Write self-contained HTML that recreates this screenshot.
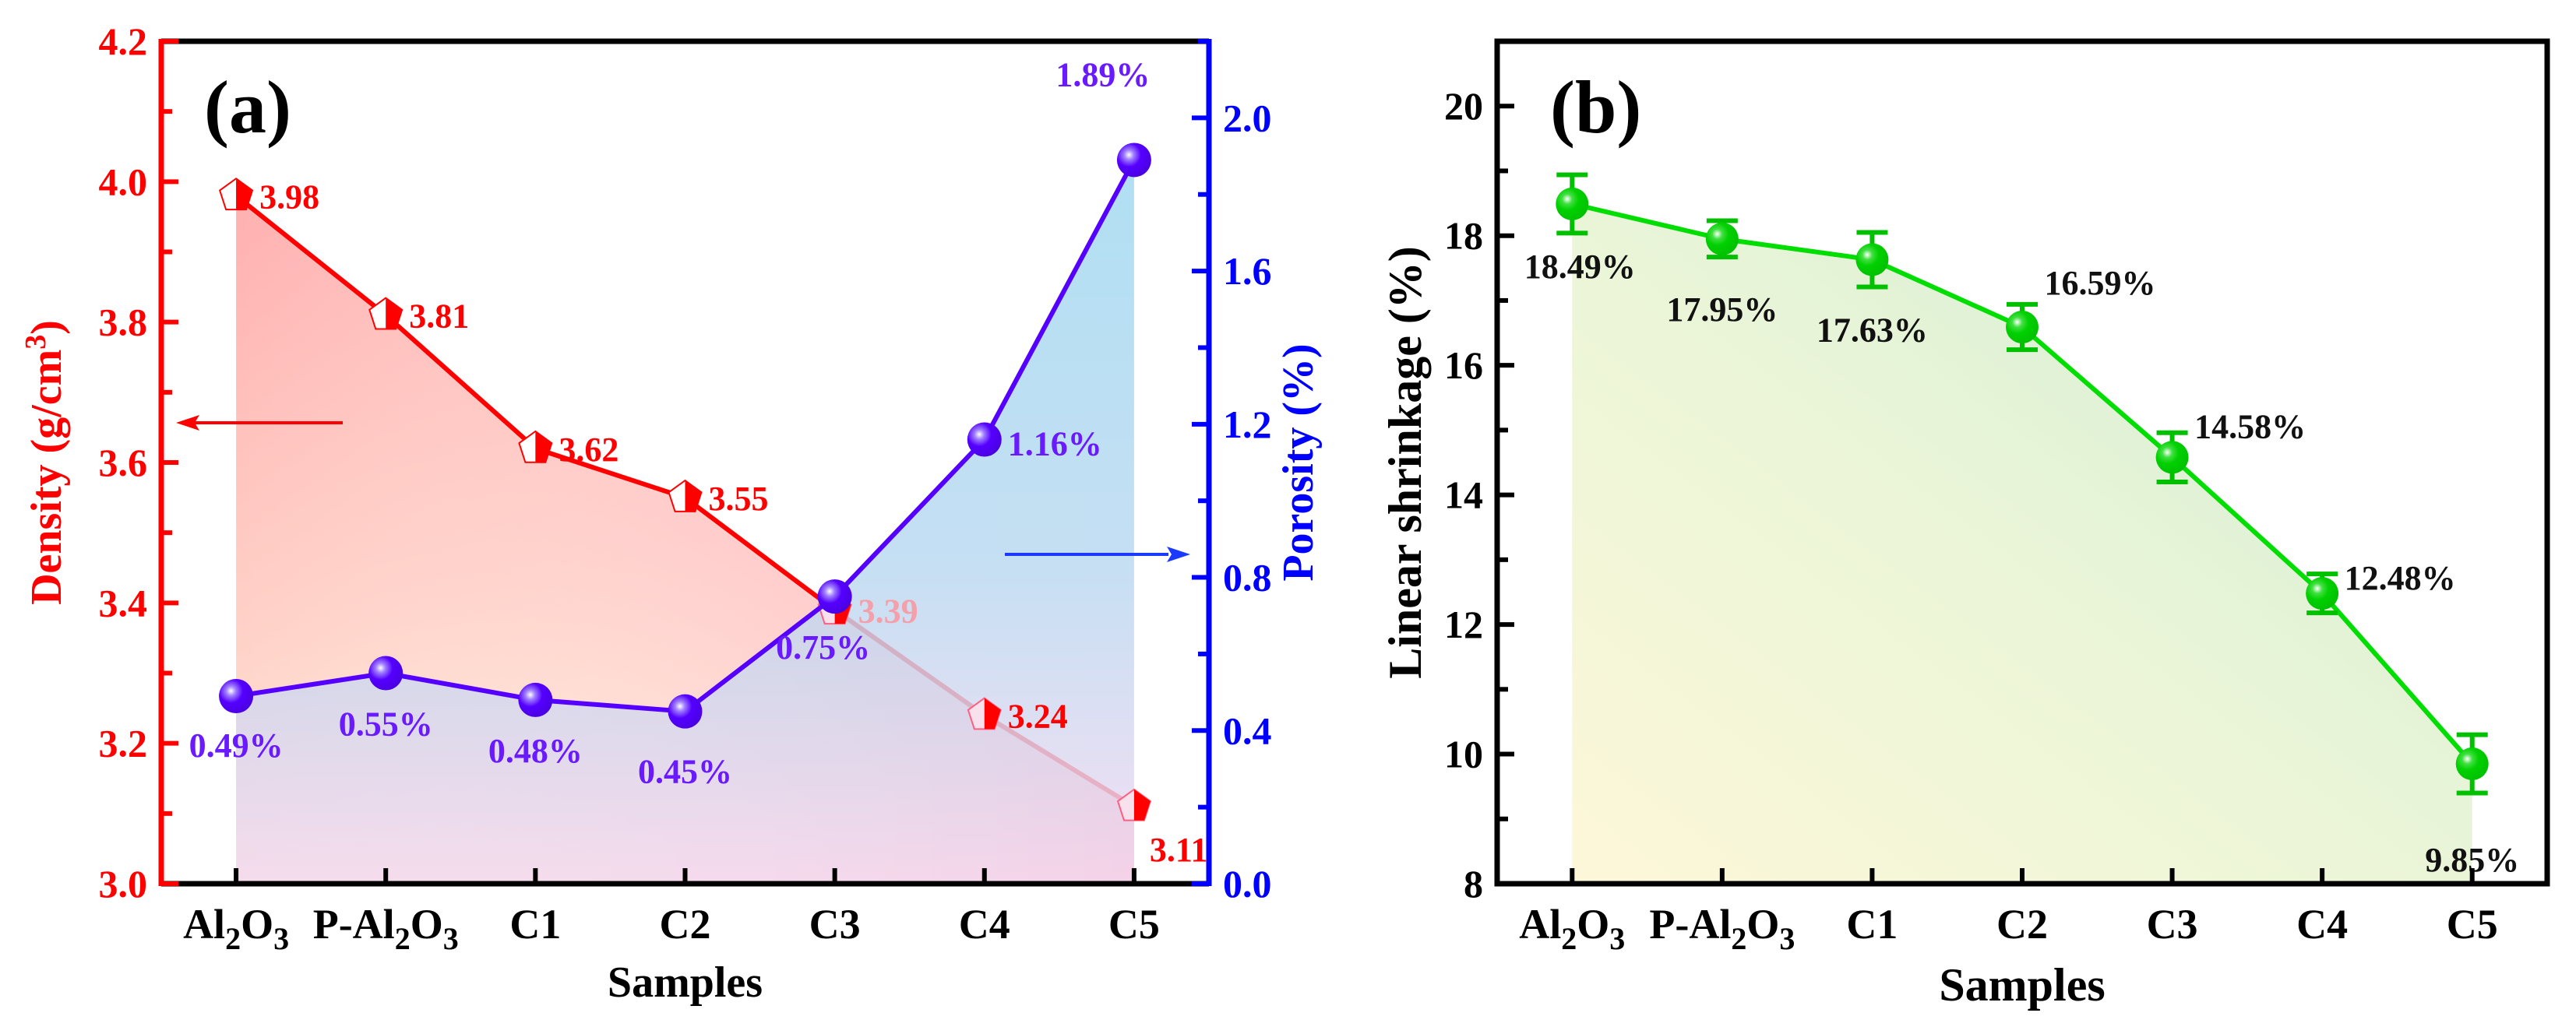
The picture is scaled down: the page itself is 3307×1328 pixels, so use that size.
<!DOCTYPE html>
<html><head><meta charset="utf-8">
<style>
html,body{margin:0;padding:0;background:#fff;}
svg{display:block;font-family:"Liberation Serif",serif;font-weight:bold;}
</style></head>
<body>
<svg id="chart" width="3307" height="1328" viewBox="0 0 3307 1328" xmlns="http://www.w3.org/2000/svg">
<defs>
  <linearGradient id="gDens" x1="0" y1="0" x2="0.3" y2="1">
    <stop offset="0" stop-color="#ffb0b0"/>
    <stop offset="0.6" stop-color="#ffd2c8"/>
    <stop offset="1" stop-color="#fff3dc"/>
  </linearGradient>
  <linearGradient id="gDens2" x1="0" y1="0" x2="1" y2="0">
    <stop offset="0" stop-color="#ffffff" stop-opacity="0"/>
    <stop offset="1" stop-color="#ff90b0" stop-opacity="0.6"/>
  </linearGradient>
  <linearGradient id="gPor" x1="0" y1="0" x2="0" y2="1">
    <stop offset="0" stop-color="#9fd8f0"/>
    <stop offset="0.55" stop-color="#b8d8f0"/>
    <stop offset="1" stop-color="#f3d8f0"/>
  </linearGradient>
  <linearGradient id="gShr" x1="0" y1="1" x2="1" y2="0">
    <stop offset="0" stop-color="#fdf7d8"/>
    <stop offset="0.5" stop-color="#eaf5d8"/>
    <stop offset="1" stop-color="#cdebd0"/>
  </linearGradient>
  <radialGradient id="gBall" cx="0.35" cy="0.35" r="0.7">
    <stop offset="0" stop-color="#ffffff"/>
    <stop offset="0.2" stop-color="#a080ff"/>
    <stop offset="0.5" stop-color="#5500ff"/>
    <stop offset="1" stop-color="#4a00e0"/>
  </radialGradient>
  <radialGradient id="gGreen" cx="0.35" cy="0.35" r="0.7">
    <stop offset="0" stop-color="#ffffff"/>
    <stop offset="0.22" stop-color="#40e040"/>
    <stop offset="0.5" stop-color="#00d000"/>
    <stop offset="1" stop-color="#00c000"/>
  </radialGradient>
</defs>
<g id="layer"></g>
</svg>
<script>
const categories = ["Al2O3","P-Al2O3","C1","C2","C3","C4","C5"];
const density = [3.98,3.81,3.62,3.55,3.39,3.24,3.11];
const porosity = [0.49,0.55,0.48,0.45,0.75,1.16,1.89];
const shrinkage = [18.49,17.95,17.63,16.59,14.58,12.48,9.85];
const shrinkErr = [0.45,0.28,0.42,0.35,0.38,0.30,0.45];
const densTicks = ["3.0","3.2","3.4","3.6","3.8","4.0","4.2"];
const porTicks = ["0.0","0.4","0.8","1.2","1.6","2.0"];
const shrTicks = ["8","10","12","14","16","18","20"];

const NS = "http://www.w3.org/2000/svg";
const root = document.getElementById("layer");
function mk(tag, attrs, parent){
  const e = document.createElementNS(NS, tag);
  for (const k in attrs) e.setAttribute(k, attrs[k]);
  (parent||root).appendChild(e);
  return e;
}
const A = {l:207, r:1552, t:53, b:1135};
const B = {l:1922, r:3270, t:53, b:1135};
function xA(i){ return A.l + (i+0.5)*(A.r-A.l)/categories.length; }
function xB(i){ return B.l + (i+0.5)*(B.r-B.l)/categories.length; }
function yDen(v){ return A.b - (v-3.0)/1.2*(A.b-A.t); }
function yPor(v){ return A.b - v/2.2*(A.b-A.t); }
function yShr(v){ return B.b - (v-8)/13*(B.b-B.t); }

function pathOf(xs, ys){ return xs.map((x,i)=>(i?"L":"M")+x.toFixed(1)+","+ys[i].toFixed(1)).join(" "); }
function areaOf(xs, ys, base){ return pathOf(xs,ys)+" L"+xs[xs.length-1]+","+base+" L"+xs[0]+","+base+" Z"; }

// ---------- Panel A ----------
const gA = mk("g",{});


const dx = density.map((v,i)=>xA(i)), dy = density.map(v=>yDen(v));
const px = porosity.map((v,i)=>xA(i)), py = porosity.map(v=>yPor(v));

let e = mk("path",{d:areaOf(dx,dy,A.b), fill:"url(#gDens)"}, gA);


e = mk("path",{d:areaOf(dx,dy,A.b), fill:"url(#gDens2)"}, gA);



e = mk("path",{d:pathOf(dx,dy), fill:"none", stroke:"#ff0000", "stroke-width":6}, gA);



e = mk("path",{d:areaOf(px,py,A.b), fill:"url(#gPor)", opacity:0.82}, gA);



density.forEach((v,i)=>{
  const x = dx[i], y = dy[i], s = 22;
  const pts = [];
  for (let k=0;k<5;k++){ const a = -Math.PI/2 + k*2*Math.PI/5; pts.push([x+s*Math.cos(a), y+s*Math.sin(a)]); }
  const p = mk("polygon",{points:pts.map(q=>q.join(",")).join(" "), fill:i>=4?"#f8e0ec":"#ffffff", stroke:i>=4?"#ff6080":"#ff0000","stroke-width":2}, gA);
  
  
  const half = [[x,y-s],pts[1],pts[2],[x,pts[2][1]]];
  const h = mk("polygon",{points:half.map(q=>q.join(",")).join(" "), fill:"#ff0000"}, gA);
  
  
  const last = i===density.length-1;
  const t = mk("text",{x: last? x+20 : x+30, y: last? y+70 : y+16, "font-size":44, fill: i===4? "#f4a0aa":"#ff0000"}, gA);
  t.textContent = v.toFixed(2);
  
  
});

e = mk("path",{d:pathOf(px,py), fill:"none", stroke:"#5500ff", "stroke-width":6}, gA);


const porOff = [[0,78],[0,80],[0,80],[0,92],[-15,80],[30,20],[-40,-95]];
porosity.forEach((v,i)=>{
  const c = mk("circle",{cx:px[i], cy:py[i], r:22, fill:"url(#gBall)"}, gA);
  
  
  const t = mk("text",{x:px[i]+porOff[i][0], y:py[i]+porOff[i][1], "font-size":44, fill:"#6a1aff", "text-anchor": i===5?"start":"middle"}, gA);
  t.textContent = v.toFixed(2)+"%";
  
  
});

e = mk("line",{x1:A.l,y1:A.t,x2:A.r,y2:A.t,stroke:"#000","stroke-width":7}, gA);
 
e = mk("line",{x1:A.l,y1:A.b,x2:A.r,y2:A.b,stroke:"#000","stroke-width":7}, gA);
 
e = mk("line",{x1:A.l,y1:A.t-3,x2:A.l,y2:A.b+3,stroke:"#ff0000","stroke-width":7}, gA);
 
e = mk("line",{x1:A.r,y1:A.t-3,x2:A.r,y2:A.b+3,stroke:"#0000ff","stroke-width":7}, gA);
 

for (let k=0;k<=12;k++){
  const v = 3.0 + k*0.1, y = yDen(v), major = k%2===0;
  mk("line",{x1:A.l,y1:y,x2:A.l+(major?22:14),y2:y,stroke:"#ff0000","stroke-width":6}, gA);
}
densTicks.forEach(s=>{
  const t = mk("text",{x:A.l-18, y:yDen(parseFloat(s))+17, "font-size":50, fill:"#ff0000","text-anchor":"end"}, gA);
  t.textContent = s;
   
});
for (let k=0;k<=11;k++){
  const v = k*0.2, y = yPor(v), major = k%2===0;
  mk("line",{x1:A.r,y1:y,x2:A.r-(major?22:14),y2:y,stroke:"#0000ff","stroke-width":6}, gA);
}
porTicks.forEach(s=>{
  const t = mk("text",{x:A.r+18, y:yPor(parseFloat(s))+17, "font-size":50, fill:"#0000ff"}, gA);
  t.textContent = s;
   
});

function catLabel(g, x, y, name){
  const t = mk("text",{x:x, y:y, "font-size":54, fill:"#000", "text-anchor":"middle"}, g);
  if (name.indexOf("Al2O3")>=0){
    const pre = name.replace("Al2O3","");
    const t1 = mk("tspan",{},t); t1.textContent = pre+"Al";
    const t2 = mk("tspan",{dy:14,"font-size":40},t); t2.textContent = "2";
    const t3 = mk("tspan",{dy:-14},t); t3.textContent = "O";
    const t4 = mk("tspan",{dy:14,"font-size":40},t); t4.textContent = "3";
  } else t.textContent = name;
  
  
}
categories.forEach((c,i)=>{
  mk("line",{x1:xA(i),y1:A.b,x2:xA(i),y2:A.b-20,stroke:"#000","stroke-width":6}, gA);
  catLabel(gA, xA(i), 1205, c);
});
e = mk("text",{x:(A.l+A.r)/2, y:1280, "font-size":56, "text-anchor":"middle", fill:"#000"}, gA);
e.textContent = "Samples";
 

e = mk("text",{x:0,y:0,"font-size":56,fill:"#ff0000","text-anchor":"middle",transform:"translate(78,594) rotate(-90)"}, gA);
let s1 = mk("tspan",{},e); s1.textContent = "Density (g/cm";
let s2 = mk("tspan",{dy:-20,"font-size":38},e); s2.textContent = "3";
let s3 = mk("tspan",{dy:20},e); s3.textContent = ")";
 
e = mk("text",{x:0,y:0,"font-size":56,fill:"#0000ff","text-anchor":"middle",transform:"translate(1685,594) rotate(-90)"}, gA);
e.textContent = "Porosity (%)";
 

e = mk("text",{x:262,y:170,"font-size":96,fill:"#000"}, gA);
e.textContent = "(a)";
 

e = mk("g",{}, gA);
 
mk("line",{x1:440,y1:543,x2:250,y2:543,stroke:"#ff0000","stroke-width":4}, e);
mk("polygon",{points:"226,543 256,533 250,543 256,553",fill:"#ff0000"}, e);
e = mk("g",{}, gA);
 
mk("line",{x1:1290,y1:712,x2:1500,y2:712,stroke:"#1a3aff","stroke-width":4}, e);
mk("polygon",{points:"1528,712 1498,702 1504,712 1498,722",fill:"#1a3aff"}, e);

// ---------- Panel B ----------
const gB = mk("g",{});


const sx = shrinkage.map((v,i)=>xB(i)), sy = shrinkage.map(v=>yShr(v));
e = mk("path",{d:areaOf(sx,sy,B.b), fill:"url(#gShr)"}, gB);
 
e = mk("path",{d:pathOf(sx,sy), fill:"none", stroke:"#00dd00","stroke-width":6}, gB);
 
const shOff = [[10,95],[0,105],[0,105],[100,-42],[100,-25],[100,-5],[0,138]];
shrinkage.forEach((v,i)=>{
  const x = sx[i], yt = yShr(v+shrinkErr[i]), yb = yShr(v-shrinkErr[i]);
  const eb = mk("path",{d:`M${x},${yt} L${x},${yb} M${x-20},${yt} L${x+20},${yt} M${x-20},${yb} L${x+20},${yb}`, stroke:"#00c000","stroke-width":6, fill:"none"}, gB);
   
  const c = mk("circle",{cx:x, cy:sy[i], r:21, fill:"url(#gGreen)"}, gB);
   
  const t = mk("text",{x:x+shOff[i][0], y:sy[i]+shOff[i][1], "font-size":44, fill:"#111", "text-anchor":"middle"}, gB);
  t.textContent = v.toFixed(2)+"%";
   
});
e = mk("rect",{x:B.l,y:B.t,width:B.r-B.l,height:B.b-B.t,fill:"none",stroke:"#000","stroke-width":7}, gB);
 
for (let k=0;k<=13;k++){
  const v = 8+k, y = yShr(v), major = k%2===0;
  mk("line",{x1:B.l,y1:y,x2:B.l+(major?22:14),y2:y,stroke:"#000","stroke-width":6}, gB);
}
shrTicks.forEach(s=>{
  const t = mk("text",{x:B.l-18, y:yShr(parseFloat(s))+17, "font-size":50, fill:"#000","text-anchor":"end"}, gB);
  t.textContent = s;
   
});
categories.forEach((c,i)=>{
  mk("line",{x1:xB(i),y1:B.b,x2:xB(i),y2:B.b-20,stroke:"#000","stroke-width":6}, gB);
  catLabel(gB, xB(i), 1205, c);
});
e = mk("text",{x:(B.l+B.r)/2, y:1285, "font-size":60, "text-anchor":"middle", fill:"#000"}, gB);
e.textContent = "Samples";
 
e = mk("text",{x:0,y:0,"font-size":60,fill:"#000","text-anchor":"middle",transform:"translate(1824,594) rotate(-90)"}, gB);
e.textContent = "Linear shrinkage (%)";
 
e = mk("text",{x:1990,y:170,"font-size":96,fill:"#000"}, gB);
e.textContent = "(b)";
 
</script>
</body></html>
